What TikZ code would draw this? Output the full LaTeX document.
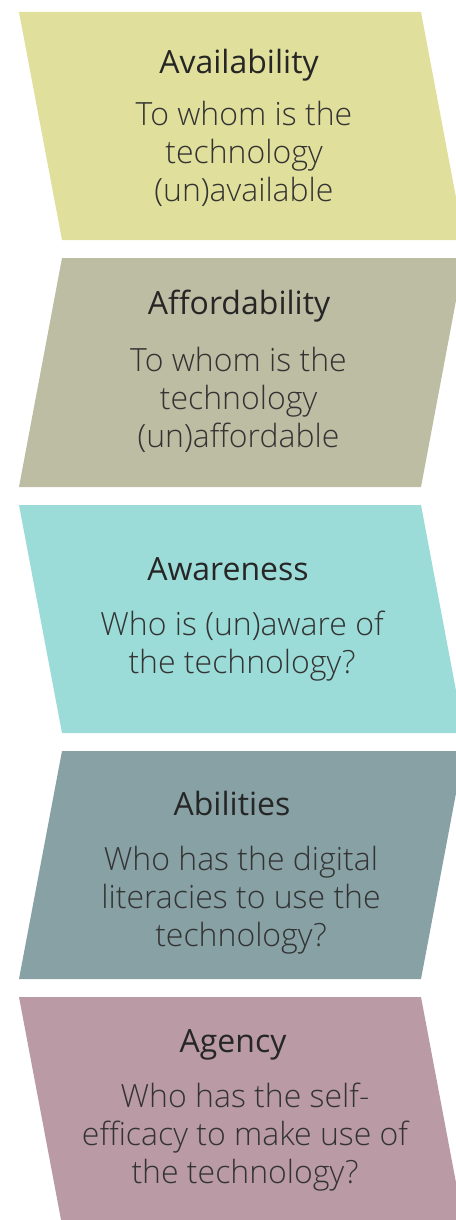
\documentclass[tikz,border=0pt]{standalone}
\usepackage{fontspec}
\setmainfont{Open Sans}
\newfontfamily\lightfont{Open Sans Light}
\definecolor{cA}{HTML}{E0DF9B}
\definecolor{cB}{HTML}{BDBDA3}
\definecolor{cC}{HTML}{9BDCD8}
\definecolor{cD}{HTML}{87A1A5}
\definecolor{cE}{HTML}{BA9BA5}
\definecolor{ttl}{HTML}{262626}
\definecolor{bdy}{HTML}{333333}
\tikzset{
  ttlnode/.style={anchor=base, inner sep=0pt, text=ttl, font=\fontsize{32}{38}\selectfont},
  bdynode/.style={anchor=base, inner sep=0pt, text=bdy, align=center, font=\lightfont\fontsize{32}{38}\selectfont},
}
\begin{document}
\begin{tikzpicture}[x=1pt,y=-1pt]
\useasboundingbox (0,0) rectangle (455,1220);
\fill[cA] (19,12) -- (421,12) -- (464,240) -- (62,240) -- cycle;
\fill[cB] (62,258) -- (464,258) -- (421,487) -- (19,487) -- cycle;
\fill[cC] (19,505) -- (421,505) -- (464,733) -- (62,733) -- cycle;
\fill[cD] (62,751) -- (464,751) -- (421,979) -- (19,979) -- cycle;
\fill[cE] (19,997) -- (421,997) -- (464,1225) -- (62,1225) -- cycle;

\node[ttlnode] (t1) at (239,74) {Availability};
\node[bdynode] (b1) at (244,201) {To whom is the\\technology\\(un)available};

\node[ttlnode] (t2) at (239,314) {Affordability};
\node[bdynode] (b2) at (238.5,447.5) {To whom is the\\technology\\(un)affordable};

\node[ttlnode] (t3) at (228,580.5) {Awareness};
\node[bdynode] (b3) at (242,673) {Who is (un)aware of\\the technology?};

\node[ttlnode] (t4) at (232,815) {Abilities};
\node[bdynode] (b4) at (241,946) {Who has the digital\\literacies to use the\\technology?};

\node[ttlnode] (t5) at (233,1052.5) {Agency};
\node[bdynode] (b5) at (245,1183) {Who has the self-\\efficacy to make use of\\the technology?};
\end{tikzpicture}
\end{document}
